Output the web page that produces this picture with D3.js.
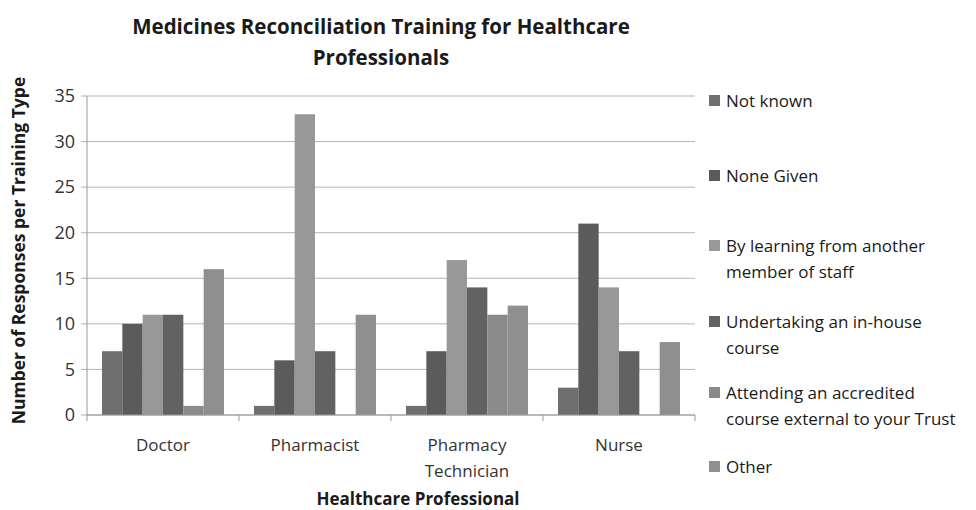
<!DOCTYPE html>
<html>
<head>
<meta charset="utf-8">
<script src="https://cdn.jsdelivr.net/npm/d3@7"></script>
<style>
  body { margin: 0; background: #fff; }
  text { font-family: "Open Sans", Lato, sans-serif; fill: #1a1a1a; }
</style>
</head>
<body>
<svg id="chart" width="976" height="510"></svg>
<script>
var professions = ["Doctor", "Pharmacist", "Pharmacy Technician", "Nurse"];
var trainingTypes = [
  "Not known",
  "None Given",
  "By learning from another member of staff",
  "Undertaking an in-house course",
  "Attending an accredited course external to your Trust",
  "Other"
];
var notKnown = [7, 1, 1, 3];
var noneGiven = [10, 6, 7, 21];
var byLearning = [11, 33, 17, 14];
var inHouse = [11, 7, 14, 7];
var accredited = [1, 0, 11, 0];
var other = [16, 11, 12, 8];
var yTicks = [0, 5, 10, 15, 20, 25, 30, 35];

var seriesValues = [notKnown, noneGiven, byLearning, inHouse, accredited, other];
var colors = ["#6f6f6f", "#5b5b5b", "#989898", "#626262", "#8a8a8a", "#8f8f8f"];
var legendLines = [
  ["Not known"],
  ["None Given"],
  ["By learning from another", "member of staff"],
  ["Undertaking an in-house", "course"],
  ["Attending an accredited", "course external to your Trust"],
  ["Other"]
];
var profLines = [["Doctor"], ["Pharmacist"], ["Pharmacy", "Technician"], ["Nurse"]];

const margin = {top: 96, left: 87},
  plotW = 608,
  plotH = 319;

const svg = d3.select("#chart");
const g = svg.append("g")
  .attr("transform", "translate(" + margin.left + "," + margin.top + ")");

const x0 = d3.scaleBand().domain(professions).range([0, plotW]).paddingInner(0).paddingOuter(0);
const x1 = d3.scaleBand().domain(d3.range(trainingTypes.length))
  .range([15, x0.bandwidth() - 15]).padding(0);
const y = d3.scaleLinear().domain([0, 35]).range([plotH, 0]);

// gridlines
g.selectAll(".grid")
  .data(yTicks)
  .enter()
  .append("line")
  .attr("x1", -6)
  .attr("x2", plotW)
  .attr("y1", d => y(d))
  .attr("y2", d => y(d))
  .attr("stroke", "#b3b3b3")
  .attr("stroke-width", 1);

// y tick labels
g.selectAll(".ylab")
  .data(yTicks)
  .enter()
  .append("text")
  .attr("x", -12)
  .attr("y", d => y(d))
  .attr("dy", "0.35em")
  .style("text-anchor", "end")
  .style("font-size", "18px")
  .style("fill", "#333")
  .text(d => d);

// bars
const groups = g.selectAll(".prof")
  .data(professions)
  .enter()
  .append("g")
  .attr("transform", d => "translate(" + x0(d) + ",0)");

groups.selectAll("rect")
  .data((d, pi) => seriesValues.map((vals, si) => ({s: si, v: vals[pi]})))
  .enter()
  .append("rect")
  .attr("x", d => x1(d.s))
  .attr("width", x1.bandwidth())
  .attr("y", d => y(d.v))
  .attr("height", d => plotH - y(d.v))
  .style("fill", d => colors[d.s]);

// axes lines
g.append("line")
  .attr("x1", 0).attr("x2", 0)
  .attr("y1", 0).attr("y2", plotH)
  .attr("stroke", "#9a9a9a");
g.append("line")
  .attr("x1", 0).attr("x2", plotW)
  .attr("y1", plotH).attr("y2", plotH)
  .attr("stroke", "#9a9a9a");

// x ticks between categories
g.selectAll(".xtick")
  .data(d3.range(professions.length + 1))
  .enter()
  .append("line")
  .attr("x1", d => d * x0.bandwidth())
  .attr("x2", d => d * x0.bandwidth())
  .attr("y1", plotH)
  .attr("y2", plotH + 6)
  .attr("stroke", "#9a9a9a");

// category labels
g.selectAll(".xlab")
  .data(professions)
  .enter()
  .append("text")
  .attr("x", d => x0(d) + x0.bandwidth() / 2)
  .attr("y", plotH + 36)
  .style("text-anchor", "middle")
  .style("font-size", "17px")
  .style("fill", "#333")
  .each(function (d, i) {
    d3.select(this).selectAll("tspan")
      .data(profLines[i])
      .enter()
      .append("tspan")
      .attr("x", x0(d) + x0.bandwidth() / 2)
      .attr("dy", (t, j) => j === 0 ? 0 : 26)
      .text(t => t);
  });

// title
svg.append("text")
  .attr("x", 381)
  .attr("y", 34)
  .style("text-anchor", "middle")
  .style("font-size", "20.5px")
  .style("font-weight", "bold")
  .text("Medicines Reconciliation Training for Healthcare");
svg.append("text")
  .attr("x", 381)
  .attr("y", 65)
  .style("text-anchor", "middle")
  .style("font-size", "20.5px")
  .style("font-weight", "bold")
  .text("Professionals");

// axis titles
svg.append("text")
  .attr("transform", "translate(25," + (margin.top + plotH / 2 - 5) + ") rotate(-90)")
  .style("text-anchor", "middle")
  .style("font-size", "17.5px")
  .style("font-weight", "bold")
  .text("Number of Responses per Training Type");
svg.append("text")
  .attr("x", 418)
  .attr("y", 505)
  .style("text-anchor", "middle")
  .style("font-size", "17px")
  .style("font-weight", "bold")
  .text("Healthcare Professional");

// legend
var legendY = [101, 176, 246, 322, 393, 467];
const legend = svg.selectAll(".legend")
  .data(trainingTypes)
  .enter()
  .append("g")
  .attr("class", "legend")
  .attr("transform", (d, i) => "translate(709," + legendY[i] + ")");

legend.append("rect")
  .attr("x", 0)
  .attr("y", -6)
  .attr("width", 11)
  .attr("height", 11)
  .style("fill", (d, i) => colors[i]);

legend.append("text")
  .attr("x", 17)
  .attr("y", 0)
  .style("font-size", "17px")
  .each(function (d, i) {
    d3.select(this).selectAll("tspan")
      .data(legendLines[i])
      .enter()
      .append("tspan")
      .attr("x", 17)
      .attr("dy", (t, j) => j === 0 ? "0.35em" : 26)
      .text(t => t);
  });
</script>
</body>
</html>
